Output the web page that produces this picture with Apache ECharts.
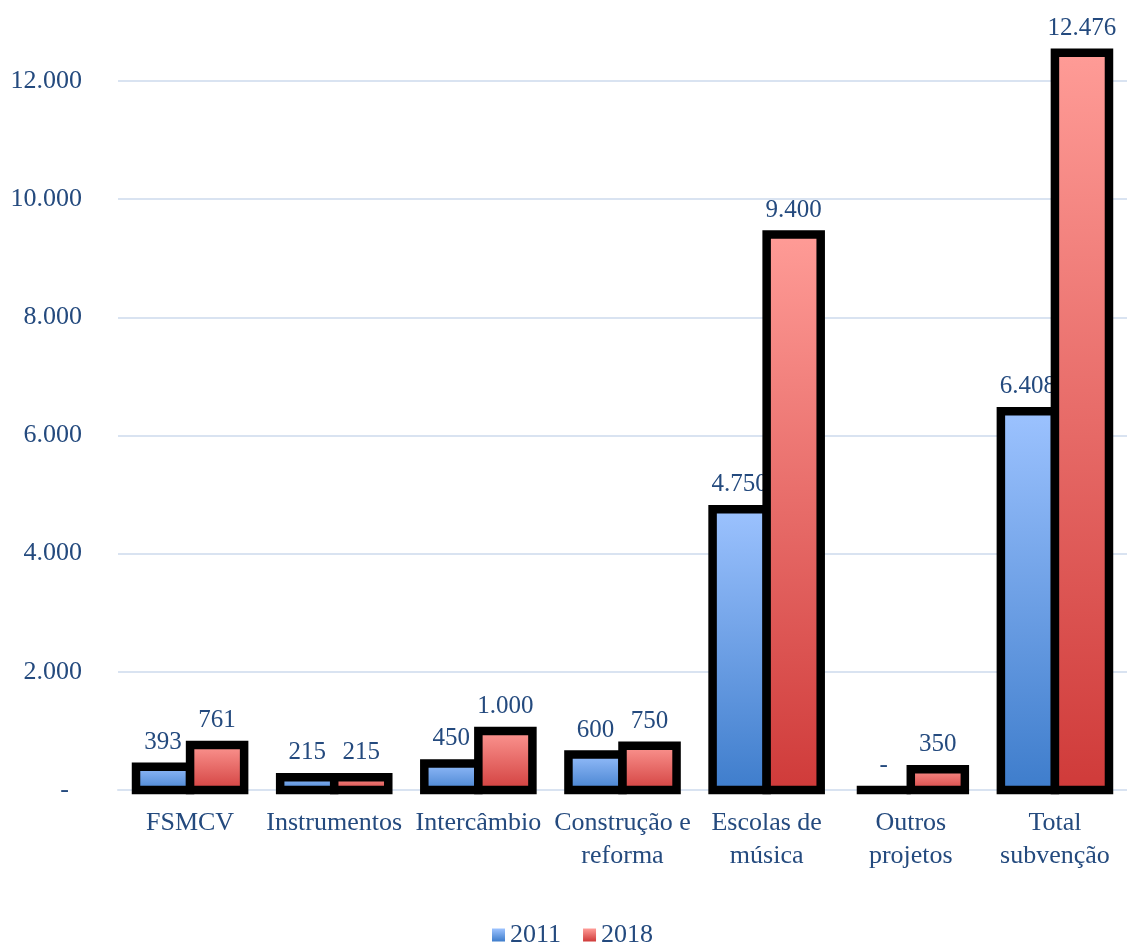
<!DOCTYPE html>
<html>
<head>
<meta charset="utf-8">
<script src="https://cdn.jsdelivr.net/npm/echarts@6/dist/echarts.min.js"></script>
<style>
  html, body { margin: 0; padding: 0; background: #fff; }
  #chart { width: 1127px; height: 942px; }
</style>
</head>
<body>
<div id="chart"></div>
<script>
// dados
const categories = ['FSMCV', 'Instrumentos', 'Intercâmbio', 'Construção e\nreforma', 'Escolas de\nmúsica', 'Outros\nprojetos', 'Total\nsubvenção']
const values2011 = [393, 215, 450, 600, 4750, 0, 6408]
const values2018 = [761, 215, 1000, 750, 9400, 350, 12476]
const yTicks = [0, 2000, 4000, 6000, 8000, 10000, 12000]

const textColor = '#244A7E'
const font = 'Liberation Serif'

const fmt = (v) => v === 0 ? '-' : String(v).replace(/\B(?=(\d{3})+(?!\d))/g, '.')

const blueGrad = () => new echarts.graphic.LinearGradient(0, 0, 0, 1, [
  { offset: 0, color: '#9DC3FF' },
  { offset: 1, color: '#3D7CCB' }
])
const redGrad = () => new echarts.graphic.LinearGradient(0, 0, 0, 1, [
  { offset: 0, color: '#FF9C97' },
  { offset: 1, color: '#CF3A39' }
])

// barra com contorno centrado na borda (como no Excel)
const makeRender = (side, grad) => (params, api) => {
  const idx = api.value(0)
  const v = api.value(1)
  const base = api.coord([idx, 0])
  const top = api.coord([idx, v])
  const bw = api.size([1, 0])[0] * 0.375
  const x = side === 0 ? base[0] - bw : base[0]
  return {
    type: 'group',
    children: [
      {
        type: 'rect',
        shape: { x: x, y: top[1], width: bw, height: base[1] - top[1] },
        style: { fill: grad(), stroke: '#000', lineWidth: 8.5, lineJoin: 'miter' }
      },
      {
        type: 'text',
        style: {
          text: fmt(v),
          x: x + bw / 2,
          y: top[1] - 12,
          align: 'center',
          verticalAlign: 'bottom',
          fill: textColor,
          font: '25px "' + font + '"'
        }
      }
    ]
  }
}

const chart = echarts.init(document.getElementById('chart'))
chart.setOption({
  animation: false,
  grid: { left: 118, right: 0, top: 10, bottom: 152, outerBoundsMode: 'none', containLabel: false },
  legend: {
    bottom: -11,
    left: 487,
    itemWidth: 13,
    itemHeight: 13,
    itemGap: 22,
    textStyle: { color: textColor, fontFamily: font, fontSize: 26 },
    data: [
      { name: '2011', icon: 'rect', itemStyle: { color: blueGrad(), borderWidth: 0 } },
      { name: '2018', icon: 'rect', itemStyle: { color: redGrad(), borderWidth: 0 } }
    ]
  },
  xAxis: {
    type: 'category',
    data: categories,
    axisLine: { lineStyle: { color: '#D9E3F1', width: 2 } },
    axisTick: { show: false },
    axisLabel: {
      interval: 0,
      margin: 17,
      color: textColor,
      fontFamily: font,
      fontSize: 26,
      lineHeight: 33
    }
  },
  yAxis: {
    type: 'value',
    min: 0,
    max: 13200,
    interval: 2000,
    axisLine: { show: false },
    axisTick: { show: false },
    splitLine: { showMaxLine: false, lineStyle: { color: '#D9E3F1', width: 2 } },
    axisLabel: {
      margin: 36,
      color: textColor,
      fontFamily: font,
      fontSize: 26,
      formatter: (v) => v === 0 ? '-  ' : (yTicks.includes(v) ? fmt(v) : '')
    }
  },
  series: [
    {
      name: '2011',
      type: 'custom',
      data: values2011.map((v, i) => [i, v]),
      encode: { x: 0, y: 1 },
      itemStyle: { color: '#6A9FE6' },
      renderItem: makeRender(0, blueGrad)
    },
    {
      name: '2018',
      type: 'custom',
      data: values2018.map((v, i) => [i, v]),
      encode: { x: 0, y: 1 },
      itemStyle: { color: '#E8605E' },
      renderItem: makeRender(1, redGrad)
    }
  ]
})
</script>
</body>
</html>
